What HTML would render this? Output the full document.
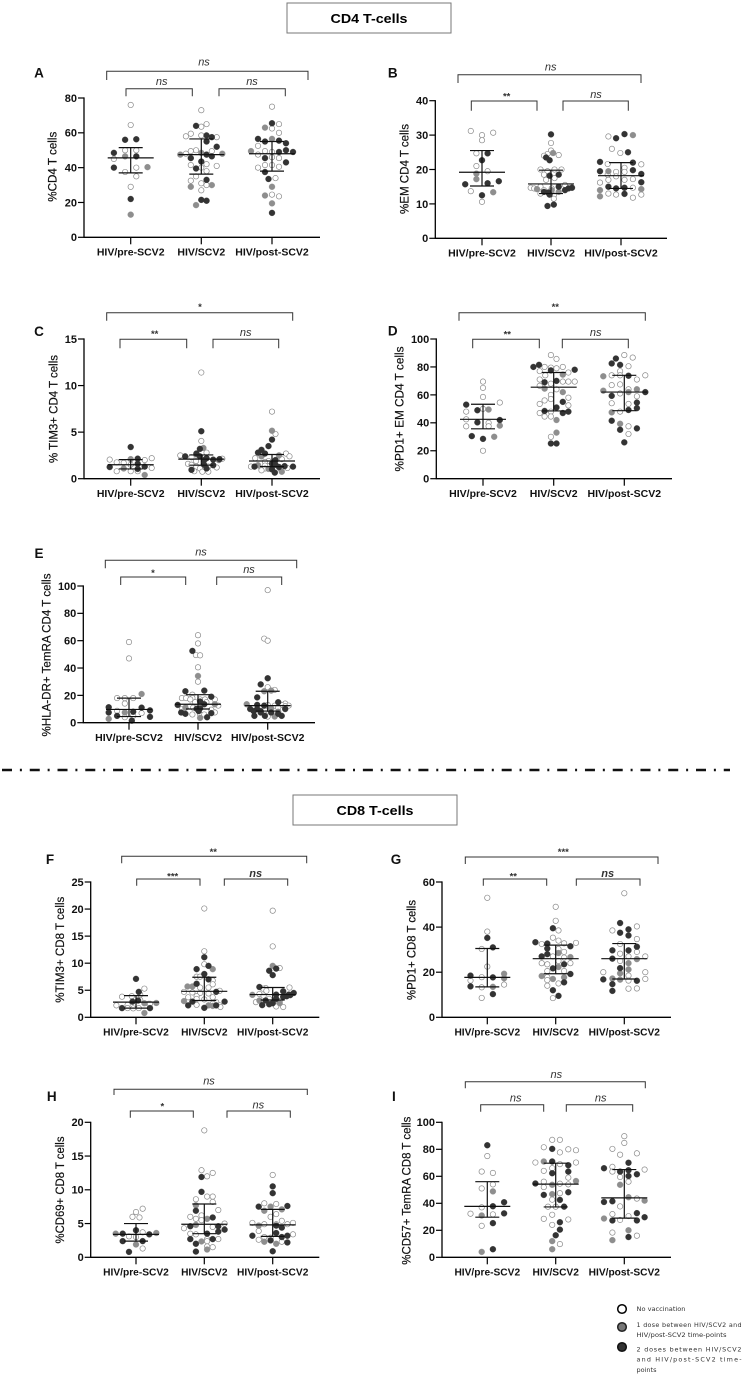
<!DOCTYPE html>
<html lang="en">
<head>
<meta charset="utf-8">
<title>CD4 and CD8 T-cell panels</title>
<style>
html,body{margin:0;padding:0;background:#fff;}
#figure{display:block;width:744px;height:1375px;font-family:"Liberation Sans",Arial,sans-serif;}
</style>
</head>
<body>
<svg id="figure" xmlns="http://www.w3.org/2000/svg" width="744" height="1375" viewBox="0 0 744 1375">
  <g>
    <rect x="287" y="3" width="164" height="30" fill="#fff" stroke="#777" stroke-width="1"/>
    <text x="369" y="23" text-anchor="middle" font-size="13" font-weight="bold" textLength="77" lengthAdjust="spacingAndGlyphs" fill="#000">CD4 T-cells</text>
  </g>
  <line x1="2" y1="770" x2="730" y2="770" stroke="#111" stroke-width="2.4" stroke-dasharray="10 7.88 2 7.88"/>
  <g>
    <rect x="293" y="795" width="164" height="30" fill="#fff" stroke="#777" stroke-width="1"/>
    <text x="375" y="815" text-anchor="middle" font-size="13" font-weight="bold" textLength="77" lengthAdjust="spacingAndGlyphs" fill="#000">CD8 T-cells</text>
  </g>
  <g id="panels"></g>
  <g font-family="'DejaVu Sans',sans-serif" font-size="6.4" fill="#333">
    <g>
      <circle cx="622" cy="1309" r="4.3" fill="#fff" stroke="#000" stroke-width="1.5"/>
      <text x="636.5" y="1311" textLength="49" lengthAdjust="spacingAndGlyphs">No vaccination</text>
    </g>
    <g>
      <circle cx="622" cy="1327" r="4.3" fill="#777" stroke="#222" stroke-width="1.5"/>
      <text x="636.5" y="1327" textLength="105" lengthAdjust="spacing">1 dose between HIV/SCV2 and</text>
      <text x="636.5" y="1337" textLength="90" lengthAdjust="spacingAndGlyphs">HIV/post-SCV2 time-points</text>
    </g>
    <g>
      <circle cx="622" cy="1347" r="4.3" fill="#333" stroke="#111" stroke-width="1.5"/>
      <text x="636.5" y="1351.5" textLength="105" lengthAdjust="spacing">2 doses between HIV/SCV2</text>
      <text x="636.5" y="1361.5" textLength="105" lengthAdjust="spacing">and HIV/post-SCV2 time-</text>
      <text x="636.5" y="1372" textLength="20" lengthAdjust="spacingAndGlyphs">points</text>
    </g>
  </g>
</svg>
<script>
const categories = ['HIV/pre-SCV2', 'HIV/SCV2', 'HIV/post-SCV2'];

/* Dose codes per point: 0 = no vaccination, 1 = one dose, 2 = two doses.
   Swarm = beeswarm slot index around the category centre. */
const aTicks = [0, 20, 40, 60, 80];
const aValues = [
 [76,64.5,56,56.3,50,50,48.5,46.5,46.5,45,40,40.3,40,37.5,35,29,22,13],
 [73,65,64,63.5,59.5,58,58.5,58.5,57.5,57.5,55,50,49.5,49.5,52,48.5,48,47.5,48,45.5,47.5,46.5,43.5,41.5,42,41,39.5,40,38,35,33,32.5,31,30,30,29,27,21.5,21,18.5],
 [75,65.5,65,63,62.5,60,56.5,56.5,55,55.5,54,52.5,49.5,49.5,49,49,50,49,47.5,45.5,46,45.5,43,41.5,41.5,40.5,40,37.5,33.5,34,29,24,24.5,23.5,19.5,14]];
const aSwarm = [
 [0,0,-.8,.8,-.8,.8,-2.4,-.8,.8,-2.4,-2.4,2.4,.8,-.8,.8,0,0,0],
 [0,.75,-.75,0,-1.5,-2.2,0,.75,1.5,2.2,.75,-.75,-1.5,1.5,2.2,0,3,-3,-2.2,-1.5,.75,1.5,0,-1.5,.75,2.2,-.75,0,.75,-.75,.75,-1.5,0,1.5,.75,-1.5,0,0,.75,-.75],
 [0,0,1,-1,0,1,-2,0,-1,1,2,-2,-1,-3,0,1,2,3,-2,-1,0,1,2,-1,0,1,-2,-1,-.5,.5,0,-1,0,1,0,0]];
const aDoses = [
 [0,0,2,2,0,0,2,1,2,0,2,1,0,0,0,0,2,1],
 [0,0,2,0,0,0,0,2,2,0,2,0,0,0,2,1,1,1,0,2,2,2,2,0,0,0,2,0,0,0,2,0,0,1,0,1,0,2,2,1],
 [0,2,0,1,0,0,2,1,2,2,2,0,0,1,0,2,2,2,0,2,0,0,2,0,0,0,0,2,2,0,1,1,0,0,1,2]];
const aMedians = [45.6, 47.5, 48];
const aLower = [37, 36.3, 38];
const aUpper = [51.5, 56.5, 55];

const bTicks = [0, 10, 20, 30, 40];
const bValues = [
 [31.2,30.7,30,28.5,24.7,24.7,22.7,21,19.5,18.8,17.2,15.7,16,16.6,13.7,13.4,12.5,10.6],
 [30.2,27.7,25.5,24.8,24.5,24.2,24,23.5,22.7,20,20,20,19.5,18.5,18.5,18.2,17.5,17,15.5,15,15,14.7,14.5,14.3,14,14.5,14.7,14.5,14,13.5,14,13.5,13.3,13,12.5,12.7,11.5,9.8,9.4],
 [30.3,30,29.6,29.1,26,24.8,25,22.2,21.6,22,21.5,20.5,19.5,19.5,19.3,19.3,19.8,18.5,18.7,18,17,17,17.2,16.2,16.3,15,14.5,14.7,14.7,14,14.3,13,12.9,12.7,12.7,12.2,11.8]];
const bSwarm = [
 [-1.6,1.6,0,0,-.8,.8,0,-.8,.8,-.8,-.8,-2.4,.8,2.4,-1.6,1.6,0,0],
 [0,0,0,.3,-.5,1.1,-1,-.7,-.2,-1.5,1.5,.5,-.5,-1,1.1,-.2,.5,-.7,2,-1.5,1.1,-2.9,-2.4,-2,-1,.1,3,2.5,2,1.1,.1,-1,-.4,-1.5,.4,-.2,.4,.4,-.5],
 [.5,1.7,-1.8,-.7,-1.3,-.1,1,-3,-1.9,1.7,2.9,.5,-3,-1.8,-.7,.5,1.7,-1.9,2.9,-.7,-1.8,.5,1.7,-3,2.9,-1.8,-.7,.5,1.7,-3,2.9,-1.8,.5,-.7,2.9,-3,1.7]];
const bDoses = [
 [0,0,0,0,0,2,2,0,0,1,1,2,2,2,0,1,2,0],
 [2,0,0,1,0,0,0,2,2,0,0,0,0,0,2,2,0,0,0,0,2,0,0,1,0,0,2,2,2,1,1,2,2,0,0,2,0,2,2],
 [2,1,0,2,0,0,2,2,0,2,0,0,2,1,0,0,2,0,2,0,0,0,0,0,2,2,2,2,0,1,1,0,2,0,0,1,0]];
const bMedians = [19.2, 15.8, 18.2];
const bLower = [15.2, 13, 14.5];
const bUpper = [25.5, 19.8, 22];

const cTicks = [0, 5, 10, 15];
const cValues = [
 [3.4,2.2,2.05,2.15,2.1,2,1.75,1.7,1.6,1.5,1.25,1.15,1.1,1.3,1.05,.8,.8,.8,.4],
 [11.4,5.1,4.05,3.2,3.3,2.7,2.8,2.6,2.5,2.4,2.3,2.4,2.2,2.05,2.1,2,2.15,2,1.9,1.6,1.5,1.5,1.45,1.3,1.3,.95,1.1,1.1,.75,.75,.8,1.2],
 [7.2,5.15,4.8,4.2,3.5,3.1,2.8,2.7,2.7,2.4,2.4,2.5,2.2,2.1,2,1.9,1.8,1.6,1.3,1.45,1.3,1.4,1.5,1.35,1.3,1.25,1.1,1.05,1.1,1.1,1.15,1,.65,.75,.9]];
const cSwarm = [
 [0,3,-3,1,0,2,-2,-1,1,0,-3,3,-1,2,1,-2,0,1,2],
 [0,0,0,-.2,.3,-.7,.75,-.7,-3,-2.3,-1.4,-.2,.75,1.7,2.6,2.5,3,.4,-.75,-1.9,-1.4,.4,1.7,-.7,1,-1.4,-.2,.75,.15,1,-1,2.2],
 [0,0,.5,0,-.5,-1.5,-2,-1,2,-1.5,2.5,1,-2.4,1.4,.5,-.5,-1,0,-2.5,-2,-3,-1,.5,1.8,3,1,-1.5,-.5,-1,.7,2.2,0,.4,1.4,-1.5]];
const cDoses = [
 [2,0,0,2,1,0,0,0,2,0,2,0,1,2,2,0,0,0,1],
 [0,2,0,2,1,2,0,1,0,2,0,2,2,2,2,1,0,2,0,0,0,2,2,0,0,2,0,2,0,0,0,0],
 [0,1,0,2,2,2,2,2,0,1,0,1,0,0,2,0,0,2,2,1,0,0,2,2,2,2,0,1,0,0,0,2,2,1,0]];
const cMedians = [1.5, 2.1, 1.9];
const cLower = [1.05, 1.45, 1.3];
const cUpper = [2.05, 2.55, 2.6];

const dTicks = [0, 20, 40, 60, 80, 100];
const dValues = [
 [69.5,65,58.5,54.5,53,50,49.5,49,48,42.5,42,40.3,40,37.5,37.5,38,30.5,30,28.5,20],
 [88.5,85.7,81.5,80,80,80,79,79.5,78,77.5,77,76,74.5,74,71,70,69,69.5,69.5,69.5,68,66.5,64.5,64,62,60,58,56,57,55,53.5,52.5,51,48.5,48,48,47,47,44.5,44.5,42,33,30,25.2,25.2],
 [88.5,86.7,86,82.5,81.5,80.5,77,74,74,73.3,73.7,74,71,67,67.5,64,63,64,62,62,61,59.3,59,54,54.5,53.5,50.5,49.2,47.5,48,41.5,39.3,37.5,36,35,32,26]];
const dSwarm = [
 [0,0,0,2.4,-2.4,0,.8,-.8,-2.4,-2.4,2.4,-.8,.8,-2.4,.8,2.4,-1.6,1.6,0,0],
 [-.4,.4,-2.1,-2.9,-1.3,1.3,.4,-.4,3,-.4,-2,2.1,1.3,-1.2,-2,.4,-1.3,1.3,2.1,3,-.4,-2,-1.3,.4,1.3,-.4,2.1,-1.3,-.4,1.3,-2,2.1,.4,-1.3,-.4,2.1,1.3,-2,-1.3,-.4,.4,.4,-.4,-.4,.4],
 [0,1.2,-1.2,-1.8,-.6,.6,-.6,-1.8,-.6,-3,.6,3,1.8,-1.8,-.6,.6,-3,1.8,3,.6,-.6,-1.8,1.8,-1.8,1.8,.6,1.8,.6,-1.8,-.6,-1.8,-.6,.6,1.8,-.6,.6,0]];
const dDoses = [
 [0,0,0,0,2,0,1,2,0,0,2,2,0,0,0,1,2,1,2,0],
 [0,0,2,2,0,0,0,0,2,2,0,0,1,0,0,2,2,0,0,0,0,0,1,0,1,0,0,0,0,2,0,0,2,2,0,2,2,0,0,0,1,1,0,2,2],
 [0,0,2,2,2,0,0,0,0,1,2,0,0,0,0,0,1,1,2,1,0,2,0,0,2,0,2,2,1,0,2,1,0,2,2,0,2]];
const dMedians = [42.5, 65.5, 62];
const dLower = [35.7, 48.5, 48.7];
const dUpper = [53.3, 76, 74];

const eTicks = [0, 20, 40, 60, 80, 100];
const eValues = [
 [59,47,21,18,18,18,14,11.3,11,9,8.7,8,7.5,7.5,7,4.3,5,4,5,2.8,1.5],
 [64,58,52.5,49.5,49.3,40.5,34.2,30,23,23.5,20.5,19,18,18,18,17,17,17,17,15.5,15,15,13,13.5,12.5,13.5,12,11,11,10.5,10.2,10,9.5,8.5,7.5,7.5,6.5,6,6,7,6,3.5,4],
 [97,61.5,60,32.5,28,26,23,23.5,24,18.5,15,14,13,13,13.5,13,12.5,12.5,12.5,12,10,10,10,10.5,11,10,8.5,8.5,9,8,7.5,7.5,5,5,4.5,4.5,5,6.5]];
const eSwarm = [
 [0,0,1.8,-1.7,-.6,.6,-.6,-2.9,1.8,3,-1.7,.6,-2.9,-.6,1.8,3,-1.7,-.6,.6,-2.9,.4],
 [0,0,-.8,-.3,.3,0,0,0,-1.8,.9,-.8,1.9,-2.3,-1.7,-.8,2.4,-1.1,1,.3,.3,-.4,1.2,-2.9,.9,2.9,2.4,-1.1,-1.8,-.7,.3,-.2,-2.3,1.9,.1,-2.4,2.4,-1.8,-.8,.3,1.9,.9,.3,1.3],
 [0,-.5,0,0,-1,0,-.5,.5,1,-1.5,1.5,2.5,0,2,-3,-1.5,-.5,1,3,2.5,-2.5,-1.5,0,.5,1.5,2.5,-2,-1,-.4,1.5,-1,.5,-1.9,-.4,0,1,2,1.5]];
const eDoses = [
 [0,0,1,0,0,0,0,2,2,2,0,2,2,1,0,2,2,0,0,1,2],
 [0,0,2,0,0,0,1,0,2,2,0,2,0,0,0,0,0,0,0,2,0,0,2,2,0,1,0,1,0,2,2,0,0,2,2,0,2,0,0,2,0,1,2],
 [0,0,0,2,2,0,1,1,0,2,2,0,0,0,1,2,2,0,0,0,2,2,0,1,0,2,2,2,0,1,2,2,2,2,0,1,2,2]];
const eMedians = [9.7, 13.5, 12.5];
const eLower = [4.5, 10, 8.5];
const eUpper = [18, 20.5, 23];

const fTicks = [0, 5, 10, 15, 20, 25];
const fValues = [
 [7.1,5.3,4.7,4.2,3.8,3.9,3.2,2.9,3.1,2.5,2.6,2.65,2.2,2.3,2.5,1.7,1.7,1.65,1.7,1.7,.8],
 [20.1,12.2,11.1,9.8,9.5,8.9,8.9,8,7.5,7.5,7,6.8,6.2,6.1,5.7,5.7,5.5,5.5,4.9,4.7,4.7,4.6,4.5,4.4,3.9,3.7,3.7,3.4,3.3,3,2.9,2.9,2.8,2.5,2.2,2.3,2.2,2.2,2.2,2.1,1.9,1.75],
 [19.7,13.1,9.5,9.1,9,8.6,7.8,5.6,5.5,5.4,5.3,4.8,4.9,4.5,4.2,4.15,4.3,4.2,4.1,3.9,3.8,4,3.4,3.4,3.1,3.1,3,2.8,2.6,2.25,2.4,2.3,2.6,2,1.9]];
const fSwarm = [
 [0,1.2,.4,.6,-2,-.6,.6,-.5,.3,1.8,1.2,2.9,-2.8,-1.2,2,-2,-1.2,-.4,.4,2,1.2],
 [0,0,0,0,.6,-1.1,1.2,0,-1.1,-.6,.6,1.2,-1.1,1.2,-2.4,-1.7,-.6,.6,2.2,1.7,-2.9,-1.7,-.6,.6,-1.1,1.2,-2.3,-1.1,0,-2.9,-1.7,2.9,1.7,1.2,-2.3,-1.1,2.2,.6,1.7,1.2,2.3,0],
 [0,0,0,1,.5,-.5,0,-1.9,2.4,-1,-1.4,1.5,-.9,3,2.3,-2.9,-1.9,.5,2.5,2,1.5,-1.3,.5,-.5,-1,-1.9,1,-2.4,0,-1.5,-.5,.5,1,.5,1.5]];
const fDoses = [
 [2,0,2,0,0,0,0,2,2,0,1,1,0,0,0,2,0,0,0,2,1],
 [0,0,2,0,2,2,1,2,0,0,2,0,2,0,1,1,0,0,0,2,0,0,0,0,0,0,0,0,0,1,2,2,0,0,2,0,0,1,2,1,0,2],
 [0,0,1,0,2,2,2,2,0,0,0,2,0,2,2,1,0,2,2,2,2,0,2,0,2,1,0,0,2,2,2,0,1,0,0]];
const fMedians = [2.8, 4.8, 4.2];
const fLower = [1.7, 3.1, 3.2];
const fUpper = [4, 7.4, 5.5];

const gTicks = [0, 20, 40, 60];
const gValues = [
 [53,38,35.2,31,30.3,22.5,18.5,19.3,17.8,17.7,17.3,16.3,14.5,13.7,13.3,13.5,10.3,8.6],
 [49,42.8,39.5,38.5,35.3,33,33.3,32.7,34,32.8,32.5,31.5,30.5,30.3,29,28.5,28,27,27,26.7,26.5,25,24,24,23.5,23.5,22.3,21.7,20.5,20.5,19.2,18.3,17.8,17.7,17,16.5,15.5,15,14,12,9.5,8.5],
 [55,41.8,40.3,39,38.5,37.5,36.3,34.7,32.5,31.3,29.7,29.7,29,28.2,27,27,26,25.8,25,24,21.8,21.2,20,20,19.5,18.5,17.2,16.8,16.7,17,16.2,16.3,14.7,12.7,12.8,11.7]];
const gSwarm = [
 [0,0,0,.8,-.8,0,-2.4,2.4,-.8,.8,2.4,-2.4,2.4,-2.4,-.8,.8,.8,-.8],
 [0,0,-.4,.4,-.4,2.9,-2.9,-1.2,.4,1.2,-2,2.1,-1.2,.4,1.2,.4,-1.2,-2,-.4,2.1,1.2,.4,-2,2.1,1.2,-1.2,.4,-.4,-1.2,1.2,2.1,-2,-1.2,1.2,-.4,-1.2,1.2,.4,-1.2,-.4,.4,-.4],
 [0,-.6,1.8,.6,-1.7,-.6,.6,1.8,-.6,1.8,-1.7,.6,1.8,-.6,.6,3,-1.7,1.8,-.6,.6,-.6,.6,-3,3,-.6,.6,-1.7,-3,-.6,3,1.8,.6,-1.7,.6,1.8,-1.7]];
const gDoses = [
 [0,0,2,2,0,0,2,1,0,2,1,0,0,2,0,1,2,0],
 [0,0,2,0,0,0,2,2,0,0,0,2,2,0,0,1,2,2,0,1,0,0,0,0,2,0,1,2,0,0,2,1,0,1,1,0,2,0,0,2,2,0],
 [0,2,0,2,0,2,2,0,0,2,2,2,0,0,0,0,2,1,0,1,2,1,0,0,1,0,1,2,1,0,2,0,2,0,0,2]];
const gMedians = [17.7, 26, 26];
const gLower = [13.5, 19.3, 17];
const gUpper = [30.5, 32, 32.7];

const hTicks = [0, 5, 10, 15, 20];
const hValues = [
 [7.2,6.7,6,5.9,4,3.7,3.5,3.5,3.4,3.6,3.1,3,2.4,2.4,1.9,1.3,.8],
 [18.8,12.9,12.5,12,11.9,9.7,9,9,8.6,8.2,7.7,6.9,7,6.2,6,5.9,5.7,5.7,5.5,5,4.6,4.8,4.6,4.3,4.1,4.5,3.8,3.5,3.5,3.4,2.7,2.7,2.7,2.7,2.35,2,2.4,1.6,1.5,1.15,.85],
 [12.2,10.5,9.5,8,7.9,7.5,7.5,7.6,7.1,6.9,6.4,6,5.4,5.1,5.1,4.9,4.9,4.9,4.7,4.7,4.4,3.9,3.6,3.4,3.2,3.2,3,3,2.9,2.6,2.5,2.3,2,2.2,2.3,.9]];
const hSwarm = [
 [.95,0,-.5,.5,0,.95,-2.9,-1.9,1.9,2.9,-1,0,-1.9,.95,0,.95,-1],
 [0,-.4,1.2,.4,-.4,-.4,.4,1.2,-1.2,1.2,-1.2,-1.2,2,-.4,-2,1.2,-1.2,.4,-.4,2.9,-2,-1.2,2,-2.9,2.9,1.2,2,-2,.4,-1.2,-2,1.2,2,.4,-.4,-1.2,.4,.4,1.2,.4,-1.2],
 [0,0,0,-1.2,.5,-.3,-2,2.1,1.3,-1.2,.5,-.3,1.3,-2.9,2.9,-1.2,.5,2.1,-2,.5,1.3,-2,.5,2.9,-2.9,2.1,1.3,-1.2,-.3,-2,-.3,-1.2,.5,2.1,1.3,0]];
const hDoses = [
 [0,0,0,0,2,0,1,2,2,1,0,0,2,2,1,0,2],
 [0,0,0,0,2,2,0,0,0,0,1,2,0,0,0,2,0,1,0,0,2,1,2,0,2,0,2,0,2,0,2,2,0,0,1,2,0,0,0,1,2],
 [0,2,2,0,0,1,2,2,1,1,0,0,0,0,0,0,0,0,1,2,2,0,2,0,2,2,2,0,0,0,2,1,1,2,0,2]];
const hMedians = [3.4, 4.9, 4.8];
const hLower = [2.4, 3.5, 3.1];
const hUpper = [5, 7.9, 7.1];

const iTicks = [0, 20, 40, 60, 80, 100];
const iValues = [
 [83,75,63.5,62.5,54,51,48.8,40.8,37,37.8,32.5,32.3,31,31.8,25.3,23.3,6,4],
 [87,87,81.5,80.3,80,79.3,77.7,71,71,70.2,70.2,69,68.2,66,64,63.5,62.3,59,56,56.5,54.7,53.7,54.5,54,52,48.2,46.2,46.8,47.5,42.5,42.7,37.5,37.5,37.5,31.5,28.5,28,26,24,20.5,16.3,12,9.8,6],
 [89.7,84.7,80.3,77,76,70,67,66,65,64.5,63.5,63.5,61.5,60.2,59.5,56,53.7,44.5,43.5,42,41,41.5,37.7,32.7,32,30.5,29.7,28.7,27.3,27.7,27.3,20,18.3,16,15,12.7]];
const iSwarm = [
 [0,0,-.8,.8,.8,-.8,.8,2.4,-.8,.8,2.4,-2.4,-.8,.8,.8,-.8,.8,-.8],
 [-.5,.6,-1.7,-.5,1.8,2.9,.6,-1.7,-.5,-2.9,2.9,.6,1.8,-.5,-1.7,1.8,-.5,1.8,-1.7,2.9,-2.9,-.5,.6,1.8,-1.7,1.8,-1.7,-.5,.6,.6,-.5,-1.1,0,1.2,-.5,-1.7,1.8,.6,-.5,.6,0,-.5,.6,-.5],
 [0,0,-1.7,1.8,-.6,.6,-1.7,-2.9,2.9,.6,-.6,-1.7,1.8,.6,-.6,.6,-.6,.6,1.8,2.9,-2.9,-1.7,-.6,1.8,-1.7,.6,2.9,-2.9,-1.7,-.6,1.8,.6,-1.7,1.8,.6,-1.7]];
const iDoses = [
 [2,0,0,0,0,0,1,2,0,2,2,0,1,0,2,0,2,1],
 [0,0,0,2,0,0,0,1,2,0,0,0,2,0,0,2,2,0,0,1,2,1,0,0,0,2,2,1,0,2,0,0,0,2,0,0,0,2,0,2,2,1,0,1],
 [0,0,0,0,0,2,0,2,0,2,2,0,2,2,0,0,1,1,0,1,2,2,0,2,0,0,2,1,2,0,2,1,0,0,2,1]];
const iMedians = [37.7, 54.2, 44];
const iLower = [29.7, 37.3, 29];
const iUpper = [56, 69.7, 65];

const panels = [
 {id:'a',letter:'A',lx:39,ly:77.5,title:'%CD4 T cells',tx:52.7,ty:166.7,tl:70,x0:84,xEnd:320,y0:237.3,yTop:98,yMax:80,cats:[130.7,201.3,272],ticks:aTicks,values:aValues,swarm:aSwarm,doses:aDoses,med:aMedians,lo:aLower,hi:aUpper,fs:10.5,
  top:[106.7,308,71.3,80,'ns',204,62.7],left:[126,192.3,88.7,96.3,'ns',161.7,82],right:[219,285.3,88.7,96.3,'ns',252,82]},
 {id:'b',letter:'B',lx:392.7,ly:77.5,title:'%EM CD4 T cells',tx:404.3,ty:169,tl:90,x0:435.3,xEnd:667,y0:238.3,yTop:100.7,yMax:40,cats:[482,551,621],ticks:bTicks,values:bValues,swarm:bSwarm,doses:bDoses,med:bMedians,lo:bLower,hi:bUpper,fs:10.5,
  top:[458,641,74.7,83,'ns',550.7,67.7],left:[471.3,537,101,110.7,'**',506.7,95],right:[563,628.3,101,110.7,'ns',596,95]},
 {id:'c',letter:'C',lx:39,ly:336,title:'% TIM3+ CD4 T cells',tx:53.3,ty:409,tl:108,x0:84,xEnd:320,y0:478.7,yTop:339,yMax:15,cats:[130.7,201.3,272],ticks:cTicks,values:cValues,swarm:cSwarm,doses:cDoses,med:cMedians,lo:cLower,hi:cUpper,fs:10.5,
  top:[106.7,292.7,312.7,320.7,'*',200,305.7],left:[120,186.7,339.3,348.3,'**',154.7,332.7],right:[213,278.7,339.3,348.3,'ns',245.7,333]},
 {id:'d',letter:'D',lx:392.7,ly:335.5,title:'%PD1+ EM CD4 T cells',tx:399.7,ty:409,tl:125,x0:436.3,xEnd:672,y0:478.7,yTop:339,yMax:100,cats:[483,553.7,624.3],ticks:dTicks,values:dValues,swarm:dSwarm,doses:dDoses,med:dMedians,lo:dLower,hi:dUpper,fs:10.5,
  top:[459,645.3,312.7,320.7,'**',555.3,305.7],left:[472.7,539.3,339.3,348.3,'**',507.3,333],right:[562.3,628.3,339.3,348.3,'ns',595.7,333]},
 {id:'e',letter:'E',lx:39,ly:558,title:'%HLA-DR+ TemRA CD4 T cells',tx:46.7,ty:655,tl:163,x0:83.3,xEnd:315,y0:722.7,yTop:586,yMax:100,cats:[129,198,267.7],ticks:eTicks,values:eValues,swarm:eSwarm,doses:eDoses,med:eMedians,lo:eLower,hi:eUpper,fs:10.5,
  top:[105.3,296.7,560.3,568.3,'ns',201,552.7],left:[120.7,185.7,577,585,'*',153,571.7],right:[216.7,281.7,577,585,'ns',249,570]},
 {id:'f',letter:'F',lx:50,ly:864,title:'%TIM3+ CD8 T cells',tx:60,ty:949.7,tl:106,x0:90.7,xEnd:319.3,y0:1017.3,yTop:882,yMax:25,cats:[136,204.3,272.7],ticks:fTicks,values:fValues,swarm:fSwarm,doses:fDoses,med:fMedians,lo:fLower,hi:fUpper,fs:10.2,
  top:[121.7,306.7,856.3,863.3,'**',213.3,850.7],left:[136.7,200,879,885.7,'***',172.7,875],right:[224.3,287.7,879,885.7,'ns',255.7,874,true]},
 {id:'g',letter:'G',lx:396,ly:864,title:'%PD1+ CD8 T cells',tx:411.3,ty:950,tl:100,x0:442,xEnd:671,y0:1017.3,yTop:882,yMax:60,cats:[487.3,555.7,624.3],ticks:gTicks,values:gValues,swarm:gSwarm,doses:gDoses,med:gMedians,lo:gLower,hi:gUpper,fs:10.2,
  top:[465.3,658,857,864,'***',563.3,850.7],left:[483.3,546.7,879,885.7,'**',513.3,875],right:[576.3,640,879,885.7,'ns',607.7,874,true]},
 {id:'h',letter:'H',lx:51.7,ly:1101,title:'%CD69+ CD8 T cells',tx:60,ty:1190,tl:107,x0:90.7,xEnd:319.3,y0:1257.3,yTop:1122.3,yMax:20,cats:[136,204.3,272.7],ticks:hTicks,values:hValues,swarm:hSwarm,doses:hDoses,med:hMedians,lo:hLower,hi:hUpper,fs:10.2,
  top:[114,307.3,1089.3,1095,'ns',209,1081.7],left:[130.3,193.3,1111,1117.7,'*',162.3,1105],right:[227,290.3,1111,1117.7,'ns',258.3,1105.7]},
 {id:'i',letter:'I',lx:392,ly:1101,title:'%CD57+ TemRA CD8 T cells',tx:406.3,ty:1190.7,tl:148,x0:442,xEnd:671,y0:1257.3,yTop:1122.3,yMax:100,cats:[487.3,555.7,624.3],ticks:iTicks,values:iValues,swarm:iSwarm,doses:iDoses,med:iMedians,lo:iLower,hi:iUpper,fs:10.2,
  top:[465.3,645.3,1081.7,1088.3,'ns',556.3,1075],left:[480.7,543.7,1104.7,1111.7,'ns',515.7,1098.7],right:[566.3,632.7,1104.7,1111.7,'ns',600.7,1098.7]}
];

const SVGNS = 'http://www.w3.org/2000/svg';
const SLOT_PX = 7;
const MEDIAN_HALF = 23;
const CAP_HALF = 12;
const DOSE_FILL = ['#ffffff', '#8e8e8e', '#333333'];
const DOSE_STROKE = ['#8a8a8a', '#8e8e8e', '#333333'];
const DOSE_KEY = ['open', 'grey', 'dark'];

function make(parent, tag, attrs, name, text) {
  const el = document.createElementNS(SVGNS, tag);
  for (const key in attrs) el.setAttribute(key, attrs[key]);
  
  
  if (text !== undefined) el.textContent = text;
  parent.appendChild(el);
  return el;
}

function yAxisScale(p) {
  return function (v) { return p.y0 - (v / p.yMax) * (p.y0 - p.yTop); };
}
function xAxisScale(p) {
  return function (catIndex, slot) { return p.cats[catIndex] + slot * SLOT_PX; };
}

function drawBracket(parent, spec, name) {
  const x1 = spec[0], x2 = spec[1], yT = spec[2], yB = spec[3];
  make(parent, 'path', {d: 'M' + x1 + ' ' + yB + 'V' + yT + 'H' + x2 + 'V' + yB, fill: 'none', stroke: '#333', 'stroke-width': 1}, name);
  const label = spec[4];
  const isStars = label.indexOf('*') === 0;
  const attrs = {x: spec[5], y: spec[6] + (isStars ? 4.5 : 3), 'text-anchor': 'middle', fill: '#333', 'font-size': isStars ? 9.5 : 11, 'font-style': isStars ? 'normal' : 'italic'};
  if (isStars || spec[7]) attrs['font-weight'] = 'bold';
  make(parent, 'text', attrs, name + '-label', label);
}

function drawPanel(p, root) {
  const g = make(root, 'g', {}, 'panel-' + p.id);
  const sy = yAxisScale(p);
  const sx = xAxisScale(p);

  make(g, 'text', {x: p.lx, y: p.ly, 'font-size': 13.5, 'font-weight': 'bold', 'text-anchor': p.letter === 'I' ? 'start' : 'middle', fill: '#111'}, 'panel-letter', p.letter);

  drawBracket(g, p.top, 'bracket-overall');
  drawBracket(g, p.left, 'bracket-pre-vs-acute');
  drawBracket(g, p.right, 'bracket-acute-vs-post');

  make(g, 'text', {x: 0, y: 0, transform: 'translate(' + (p.tx + 4) + ' ' + p.ty + ') rotate(-90)', 'text-anchor': 'middle', 'font-size': 11.5, textLength: p.tl, lengthAdjust: 'spacingAndGlyphs', fill: '#111', stroke: '#111', 'stroke-width': 0.2}, 'y-axis-title', p.title);

  /* points: open first, then grey, then dark */
  for (let dose = 0; dose < 3; dose++) {
    p.values.forEach(function (vals, c) {
      vals.forEach(function (v, i) {
        if ((p.doses[c][i] || 0) !== dose) return;
        const slot = p.swarm[c][i] || 0;
        make(g, 'circle', {cx: sx(c, slot), cy: sy(v), r: dose === 0 ? 2.7 : 3, fill: DOSE_FILL[dose], stroke: DOSE_STROKE[dose], 'stroke-width': dose === 0 ? 0.7 : 0.3}, 'point-' + DOSE_KEY[dose]);
      });
    });
  }

  /* median and interquartile bars */
  p.med.forEach(function (m, c) {
    const cx = sx(c, 0);
    make(g, 'line', {x1: cx - MEDIAN_HALF, x2: cx + MEDIAN_HALF, y1: sy(m), y2: sy(m), stroke: '#111', 'stroke-width': 1.2}, 'median-line');
    make(g, 'line', {x1: cx, x2: cx, y1: sy(p.lo[c]), y2: sy(p.hi[c]), stroke: '#111', 'stroke-width': 1.2}, 'error-bar');
    make(g, 'line', {x1: cx - CAP_HALF, x2: cx + CAP_HALF, y1: sy(p.lo[c]), y2: sy(p.lo[c]), stroke: '#111', 'stroke-width': 1.2}, 'error-cap-lower');
    make(g, 'line', {x1: cx - CAP_HALF, x2: cx + CAP_HALF, y1: sy(p.hi[c]), y2: sy(p.hi[c]), stroke: '#111', 'stroke-width': 1.2}, 'error-cap-upper');
  });

  /* axes */
  make(g, 'line', {x1: p.x0, x2: p.x0, y1: p.yTop - 0.6, y2: p.y0 + 0.6, stroke: '#000', 'stroke-width': 1.3}, 'y-axis-line');
  make(g, 'line', {x1: p.x0, x2: p.xEnd, y1: p.y0, y2: p.y0, stroke: '#000', 'stroke-width': 1.3}, 'x-axis-line');
  p.ticks.forEach(function (t) {
    make(g, 'line', {x1: p.x0 - 6, x2: p.x0, y1: sy(t), y2: sy(t), stroke: '#000', 'stroke-width': 1.2}, 'y-tick');
    make(g, 'text', {x: p.x0 - 7, y: sy(t) + 3.9, 'text-anchor': 'end', 'font-size': 11, 'font-weight': 'bold', fill: '#111'}, 'y-tick-label', String(t));
  });
  categories.forEach(function (label, c) {
    const cx = sx(c, 0);
    make(g, 'line', {x1: cx, x2: cx, y1: p.y0, y2: p.y0 + 7, stroke: '#000', 'stroke-width': 1.2}, 'x-tick');
    make(g, 'text', {x: cx, y: p.y0 + 18.3, 'text-anchor': 'middle', 'font-size': p.fs, 'font-weight': 'bold', fill: '#111'}, 'x-tick-label', label);
  });
}

const panelRoot = document.getElementById('panels');
panels.forEach(function (p) { drawPanel(p, panelRoot); });
</script>
</body>
</html>
